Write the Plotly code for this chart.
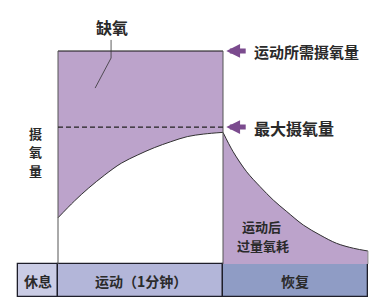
import plotly.graph_objects as go

# ---- data ----
phase_names = ["休息", "运动（1分钟）", "恢复"]
phase_start = [-14.5, 0, 60]
phase_end = [0, 60, 112.7]
phase_colors = ["#cacce5", "#b3b6d9", "#8f9cc5"]

demand_level = 100      # 运动所需摄氧量
vo2max_level = 64.3     # 最大摄氧量
bar_depth = 15.5

ex_t = [0, 6, 11, 17, 23, 29, 35, 41, 47, 53, 60]
ex_v = [21.7, 29.6, 35.5, 41.8, 47.3, 51.2, 54.6, 57.4, 59.8, 61.0, 61.8]

rec_t = [60, 63.7, 68.6, 73.5, 78.3, 83.2, 89.2, 95.3, 101.3, 107.4, 112.7]
rec_v = [61.8, 52.7, 43.3, 36.3, 30.0, 24.6, 18.3, 13.6, 9.7, 7.4, 6.1]

purple = "#bca3cb"
line_col = "#333333"
txt_col = "#2a2a2a"
FONT = "Noto Sans CJK SC"

fig = go.Figure()

# bottom phase bar
for name, s, e, c in zip(phase_names, phase_start, phase_end, phase_colors):
    fig.add_trace(go.Bar(x=[(s + e) / 2], y=[bar_depth], base=[-bar_depth],
                         width=[e - s], marker=dict(color=c, line=dict(color="#1e1e2a", width=1.3)),
                         hoverinfo="skip", showlegend=False))

# oxygen deficit region
fig.add_trace(go.Scatter(x=[ex_t[0], ex_t[-1]] + ex_t[::-1],
                         y=[demand_level, demand_level] + ex_v[::-1],
                         fill="toself", fillcolor=purple, mode="none",
                         hoverinfo="skip", showlegend=False))
# EPOC region
fig.add_trace(go.Scatter(x=rec_t + [rec_t[-1], rec_t[0]],
                         y=rec_v + [0, 0],
                         fill="toself", fillcolor=purple, mode="none",
                         hoverinfo="skip", showlegend=False))

# curves
fig.add_trace(go.Scatter(x=ex_t, y=ex_v, mode="lines", line=dict(color=line_col, width=1),
                         line_shape="spline", hoverinfo="skip", showlegend=False))
fig.add_trace(go.Scatter(x=rec_t, y=rec_v, mode="lines", line=dict(color=line_col, width=1),
                         line_shape="spline", hoverinfo="skip", showlegend=False))

# frame lines
fig.add_trace(go.Scatter(x=[ex_t[0], ex_t[-1]], y=[demand_level, demand_level], mode="lines",
                         line=dict(color="#111111", width=1.2), hoverinfo="skip", showlegend=False))
for xx in [ex_t[0], ex_t[-1]]:
    fig.add_trace(go.Scatter(x=[xx, xx], y=[0, demand_level], mode="lines",
                             line=dict(color="#555555", width=1), hoverinfo="skip", showlegend=False))
fig.add_trace(go.Scatter(x=[rec_t[-1], rec_t[-1]], y=[0, rec_v[-1]], mode="lines",
                         line=dict(color="#888888", width=1), hoverinfo="skip", showlegend=False))
# VO2max dashed
fig.add_trace(go.Scatter(x=[ex_t[0], ex_t[-1]], y=[vo2max_level, vo2max_level], mode="lines",
                         line=dict(color="#222222", width=1.2, dash="5px,3px"),
                         hoverinfo="skip", showlegend=False))
# leader line for 缺氧
fig.add_trace(go.Scatter(x=[19.3, 19.3, 13.5], y=[105.2, 96.7, 82.6], mode="lines",
                         line=dict(color="#333333", width=0.8), hoverinfo="skip", showlegend=False))

ann = []
def txt(x, y, s, size=15, xanchor="center"):
    ann.append(dict(x=x, y=y, text=s, showarrow=False, xanchor=xanchor, yanchor="middle",
                    font=dict(family=FONT, size=size, color=txt_col, weight="bold")))

txt(19.6, 111.3, "缺氧", 16)
txt(70.4, 99.7, "运动所需摄氧量", 15, "left")
txt(70.4, 64.0, "最大摄氧量", 16, "left")
for ch, yy in zip("摄氧量", [61.5, 52.6, 43.7]):
    txt(-8.2, yy, ch, 13)
txt(74.1, 17.4, "运动后", 13)
txt(74.4, 8.5, "过量氧耗", 13)
for name, s, e in zip(phase_names, phase_start, phase_end):
    txt((s + e) / 2, -bar_depth / 2, name, 14)

# arrows
for lvl in [demand_level, vo2max_level]:
    ann.append(dict(x=61.2, y=lvl, ax=68.8, ay=lvl, axref="x", ayref="y", xref="x", yref="y",
                    text="", showarrow=True, arrowhead=2, arrowsize=0.55, arrowwidth=5,
                    arrowcolor="#7b4b8e", standoff=0, startstandoff=0))

fig.update_layout(
    width=382, height=307, margin=dict(l=0, r=0, t=0, b=0),
    paper_bgcolor="white", plot_bgcolor="white",
    xaxis=dict(range=[-21.09, 117.82], visible=False, fixedrange=True),
    yaxis=dict(range=[-20.19, 123.94], visible=False, fixedrange=True),
    annotations=ann, bargap=0, barmode="overlay",
)

fig.write_html("out.html")
